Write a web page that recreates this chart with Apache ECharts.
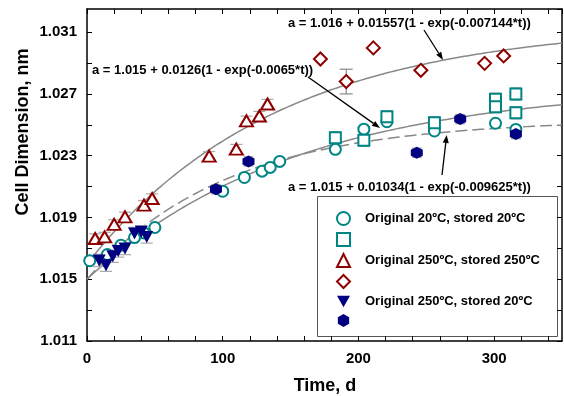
<!DOCTYPE html>
<html>
<head>
<meta charset="utf-8">
<script src="https://cdn.jsdelivr.net/npm/echarts@6/dist/echarts.min.js"></script>
<style>
html,body{margin:0;padding:0;background:#fff;}
#chart{width:564px;height:396px;}
</style>
</head>
<body>
<div id="chart"></div>
<script>
// ---- data ----
var circT = [2, 15, 25, 35, 42, 50, 100, 116, 129, 135, 142, 183, 204, 221, 256, 301, 316];
var circV = [1.0162, 1.0166, 1.0172, 1.0177, 1.0180, 1.01835, 1.0207, 1.02159, 1.0220, 1.02224, 1.02263, 1.02341, 1.02472, 1.0252, 1.0246, 1.0251, 1.0247];
var sqT = [183, 204, 221, 256, 301, 301, 316, 316];
var sqV = [1.02416, 1.0240, 1.02552, 1.02513, 1.02665, 1.02617, 1.0270, 1.02578];
var sqErr = [0.0004, 0.0004, 0.0004, 0.0004, 0.0004, 0.0004, 0.0004, 0.0004];
var triT = [6, 13, 20, 28, 42, 48, 90, 110, 117.5, 127, 133];
var triV = [1.01764, 1.01774, 1.01855, 1.01904, 1.0198, 1.02023, 1.02297, 1.02343, 1.02526, 1.02557, 1.02635];
var triErr = [0.0003, 0.0003, 0.0003, 0.0003, 0.0003, 0.0003, 0.0003, 0.0003, 0.0003, 0.0003, 0.0003];
var diaT = [172, 191, 211, 246, 293, 307];
var diaV = [1.02926, 1.0278, 1.02998, 1.02853, 1.02898, 1.02946];
var diaErr = [0, 0.0008, 0, 0, 0, 0];
var dtriT = [9, 14, 19, 23, 28, 35, 40, 44];
var dtriV = [1.01622, 1.01591, 1.01649, 1.01683, 1.01699, 1.01796, 1.01807, 1.01774];
var dtriErr = [0.0004, 0.0004, 0.0004, 0.0004, 0.0004, 0.0004, 0.0004, 0.0004];
var hexT = [95, 119, 243, 275, 316];
var hexV = [1.02082, 1.02263, 1.02319, 1.02537, 1.0244];
var hexErr = [0.0003, 0.0003, 0.0003, 0.0003, 0.0003];

// fitted curves a = A0 + A1(1 - exp(-K*t)) as printed on the chart
var fitA0 = [1.016, 1.015, 1.015];
var fitA1 = [0.01557, 0.0126, 0.01034];
var fitK = [0.007144, 0.0065, 0.009625];
var fitLabels = [
  'a = 1.016 + 0.01557(1 - exp(-0.007144*t))',
  'a = 1.015 + 0.0126(1 - exp(-0.0065*t))',
  'a = 1.015 + 0.01034(1 - exp(-0.009625*t))'
];
var legendNames = ['Original 20\u00BAC, stored 20\u00BAC', 'sq', 'Original 250\u00BAC, stored 250\u00BAC', 'dia', 'Original 250\u00BAC, stored 20\u00BAC', 'hex'];
var xTickLabels = [0, 100, 200, 300];
var yTickLabels = [1.011, 1.015, 1.019, 1.023, 1.027, 1.031];

function zip(a, b) { return a.map(function (v, i) { return [v, b[i]]; }); }
function zip3(a, b, c) { return a.map(function (v, i) { return [v, b[i], c[i]]; }).filter(function (d) { return d[2] > 0; }); }
function fitCurve(i) {
  var pts = [];
  for (var t = 0; t <= 350; t += 2) pts.push([t, fitA0[i] + fitA1[i] * (1 - Math.exp(-fitK[i] * t))]);
  return pts;
}

var TEAL = '#008585', RED = '#8e0000', NAVY = '#000080', GREY = '#888888';
var FONT = '"Liberation Sans", Arial, sans-serif';
var hexPath = 'path://M0,-1 L0.866,-0.5 L0.866,0.5 L0,1 L-0.866,0.5 L-0.866,-0.5 Z';
var downTri = 'path://M-1,-0.9 L1,-0.9 L0,0.9 Z';

function hollow(c) { return { color: '#fff', borderColor: c, borderWidth: 2, opacity: 1 }; }

var chart = echarts.init(document.getElementById('chart'), null, { renderer: 'canvas' });

function arrow(x1, y1, x2, y2) {
  var ang = Math.atan2(y2 - y1, x2 - x1), L = 8, W = 3;
  var bx = x2 - L * Math.cos(ang), by = y2 - L * Math.sin(ang);
  var px = -Math.sin(ang) * W, py = Math.cos(ang) * W;
  return [
    { type: 'line', shape: { x1: x1, y1: y1, x2: bx, y2: by }, style: { stroke: '#000', lineWidth: 1.3 }, z: 10 },
    { type: 'polygon', shape: { points: [[x2, y2], [bx + px, by + py], [bx - px, by - py]] }, style: { fill: '#000' }, z: 10 }
  ];
}

var axisCommon = {
  axisLine: { show: true, onZero: false, lineStyle: { color: '#000', width: 1.5 } },
  axisTick: { show: true, inside: true, length: 5, lineStyle: { color: '#000', width: 1 } },
  splitLine: { show: false }
};

function isLabel(v, list) {
  for (var i = 0; i < list.length; i++) if (Math.abs(v - list[i]) < 1e-7) return true;
  return false;
}

function errSeries(name, t, v, e, capW, col) {
  return {
    name: name, type: 'custom', z: 2, silent: true,
    data: zip3(t, v, e),
    renderItem: function (params, api) {
      var x = api.value(0), y = api.value(1), d = api.value(2);
      var hi = api.coord([x, y + d]), lo = api.coord([x, y - d]);
      var st = { stroke: col, lineWidth: 1.2 };
      return { type: 'group', children: [
        { type: 'line', shape: { x1: hi[0], y1: hi[1], x2: lo[0], y2: lo[1] }, style: st },
        { type: 'line', shape: { x1: hi[0] - capW, y1: hi[1], x2: hi[0] + capW, y2: hi[1] }, style: st },
        { type: 'line', shape: { x1: lo[0] - capW, y1: lo[1], x2: lo[0] + capW, y2: lo[1] }, style: st }
      ] };
    }
  };
}

var option = {
  animation: false,
  backgroundColor: '#fff',
  grid: { left: 87, right: 2, top: 9, bottom: 55, containLabel: false },
  xAxis: [
    Object.assign({
      type: 'value', min: 0, max: 350, interval: 20, position: 'bottom',
      axisLabel: {
        margin: 10, color: '#000', fontFamily: FONT, fontWeight: 'bold', fontSize: 15,
        showMaxLabel: false,
        formatter: function (v) { return isLabel(v, xTickLabels) ? String(v) : ''; }
      }
    }, axisCommon),
    Object.assign({
      type: 'value', min: 0, max: 350, interval: 20, position: 'top',
      axisLabel: { show: false }
    }, axisCommon)
  ],
  yAxis: [
    Object.assign({
      type: 'value', min: 1.011, max: 1.0325, interval: 0.002, position: 'left',
      axisLabel: {
        margin: 10, color: '#000', fontFamily: FONT, fontWeight: 'bold', fontSize: 15,
        showMaxLabel: false,
        formatter: function (v) { return isLabel(v, yTickLabels) ? v.toFixed(3) : ''; }
      }
    }, axisCommon),
    Object.assign({
      type: 'value', min: 1.011, max: 1.0325, interval: 0.002, position: 'right',
      axisLabel: { show: false }
    }, axisCommon)
  ],
  legend: {
    orient: 'vertical', left: 336, top: 211, padding: 0,
    itemWidth: 13, itemHeight: 13, itemGap: 6,
    data: legendNames,
    selectedMode: false,
    textStyle: { fontFamily: FONT, fontWeight: 'bold', fontSize: 13, color: '#000', padding: [0, 0, 0, 10] },
    formatter: function (n) { return (n === 'sq' || n === 'dia' || n === 'hex') ? ' ' : n; }
  },
  graphic: [
    { type: 'rect', shape: { x: 317.5, y: 196.5, width: 240, height: 140 }, style: { fill: '#fff', stroke: '#555', lineWidth: 1 }, z: 0 },
    { type: 'text', x: 288, y: 23, style: { text: fitLabels[0], font: 'bold 13px ' + FONT, fill: '#000', verticalAlign: 'middle' }, z: 10 },
    { type: 'text', x: 92, y: 70, style: { text: fitLabels[1], font: 'bold 13px ' + FONT, fill: '#000', verticalAlign: 'middle' }, z: 10 },
    { type: 'text', x: 288, y: 187, style: { text: fitLabels[2], font: 'bold 13px ' + FONT, fill: '#000', verticalAlign: 'middle' }, z: 10 },
    { type: 'text', x: 325, y: 386, style: { text: 'Time, d', font: 'bold 18px ' + FONT, fill: '#000', align: 'center', verticalAlign: 'middle' } },
    { type: 'text', x: 23, y: 132, rotation: Math.PI / 2, style: { text: 'Cell Dimension, nm', font: 'bold 18px ' + FONT, fill: '#000', align: 'center', verticalAlign: 'middle' } }
  ].concat(arrow(424, 30, 443, 60)).concat(arrow(308, 77, 380, 128)).concat(arrow(442, 175, 446.7, 135)),
  series: [
    { name: 'fit1', type: 'line', data: fitCurve(0), showSymbol: false, symbol: 'none', lineStyle: { color: GREY, width: 1.5 }, z: 1, silent: true },
    { name: 'fit2', type: 'line', data: fitCurve(1), showSymbol: false, symbol: 'none', lineStyle: { color: GREY, width: 1.5 }, z: 1, silent: true },
    { name: 'fit3', type: 'line', data: fitCurve(2), showSymbol: false, symbol: 'none', lineStyle: { color: GREY, width: 1.5, type: [12, 5] }, z: 1, silent: true },
    errSeries('errDia', diaT, diaV, diaErr, 6.5, GREY),
    errSeries('errSq', sqT, sqV, sqErr, 5, '#aaaaaa'),
    errSeries('errTri', triT, triV, triErr, 6, '#aaaaaa'),
    errSeries('errDtri', dtriT, dtriV, dtriErr, 6, '#aaaaaa'),
    errSeries('errHex', hexT, hexV, hexErr, 5, '#aaaaaa'),
    { name: legendNames[0], type: 'scatter', data: zip(circT, circV), symbol: 'circle', symbolSize: 11, itemStyle: hollow(TEAL), z: 3 },
    { name: legendNames[1], type: 'scatter', data: zip(sqT, sqV), symbol: 'rect', symbolSize: 11, itemStyle: hollow(TEAL), z: 3 },
    { name: legendNames[2], type: 'scatter', data: zip(triT, triV), symbol: 'triangle', symbolSize: [13, 11], itemStyle: hollow(RED), z: 4 },
    { name: legendNames[3], type: 'scatter', data: zip(diaT, diaV), symbol: 'diamond', symbolSize: 13, itemStyle: hollow(RED), z: 4 },
    { name: legendNames[4], type: 'scatter', data: zip(dtriT, dtriV), symbol: downTri, symbolSize: [13, 12], itemStyle: { color: NAVY, opacity: 1 }, z: 5 },
    { name: legendNames[5], type: 'scatter', data: zip(hexT, hexV), symbol: hexPath, symbolSize: 12, itemStyle: { color: NAVY, opacity: 1 }, z: 5 }
  ]
};
chart.setOption(option);
</script>
</body>
</html>
